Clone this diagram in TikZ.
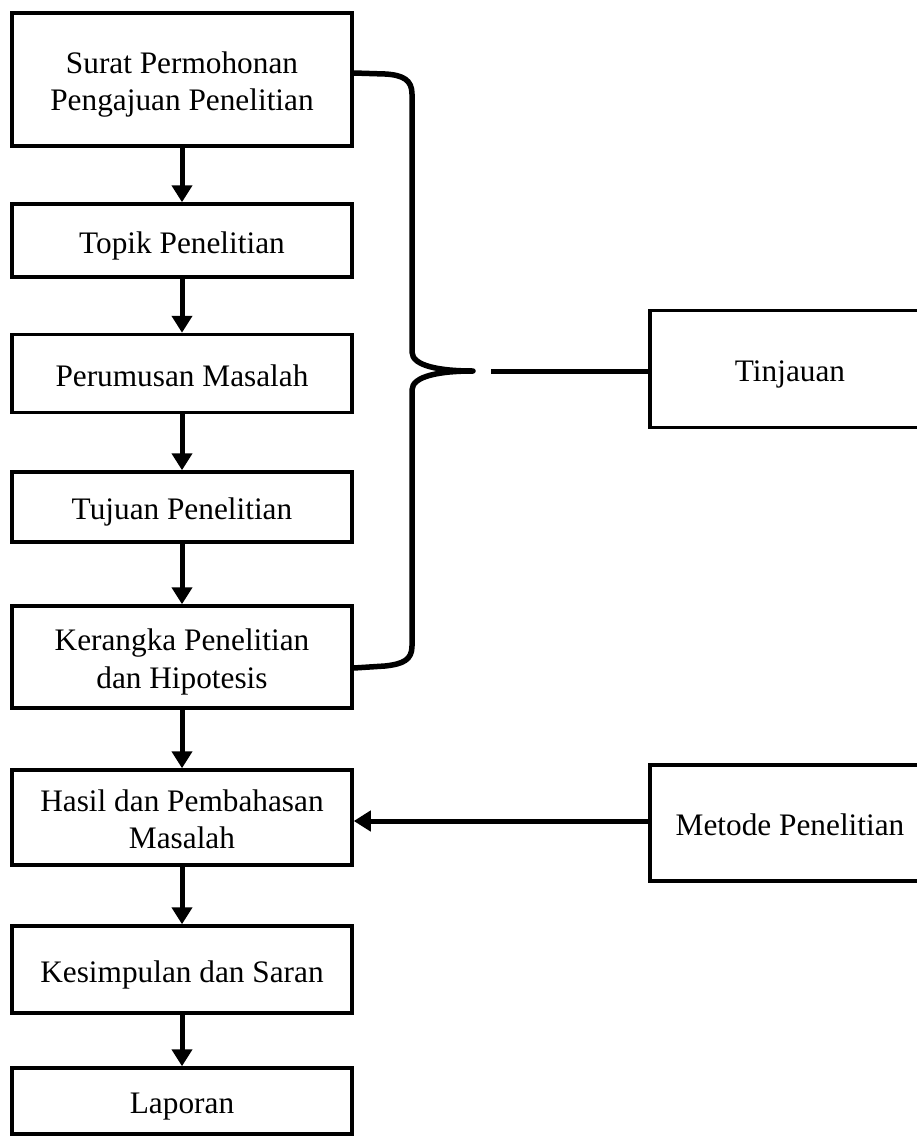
\documentclass[tikz,border=0pt]{standalone}
\usepackage{fontspec}
\setmainfont{Liberation Serif}
\usetikzlibrary{arrows.meta}
\begin{document}
\begin{tikzpicture}[x=1pt,y=-1pt,
  box/.style={draw=black, line width=3.5pt, fill=white, align=center, inner sep=0pt,
    font=\fontsize{31.3}{37.6}\selectfont},
  oneline/.style={text height=30pt, text depth=5pt},
  twoline/.style={text height=67.6pt, text depth=5pt},
  lbox/.style={box, minimum width=340pt},
  arr/.style={draw=black, line width=5pt, -{Triangle[length=17pt,width=20pt]}},
  conn/.style={draw=black, line width=5pt},
  bracepath/.style={draw=black, line width=5.5pt, line join=round}]
\useasboundingbox (0,0) rectangle (916,1140);
\node[lbox, twoline, minimum height=133pt] (b1) at (182,79.5) {Surat Permohonan\\Pengajuan Penelitian};
\node[lbox, oneline, minimum height=73pt] (b2) at (182,240.5) {Topik Penelitian};
\node[lbox, oneline, minimum height=78pt] (b3) at (182,373.5) {Perumusan Masalah};
\node[lbox, oneline, minimum height=70pt] (b4) at (182,507) {Tujuan Penelitian};
\node[lbox, twoline, minimum height=102pt] (b5) at (182,657) {Kerangka Penelitian\\dan Hipotesis};
\node[lbox, twoline, minimum height=95pt] (b6) at (182,817.5) {Hasil dan Pembahasan\\Masalah};
\node[lbox, oneline, minimum height=87pt] (b7) at (182,969.5) {Kesimpulan dan Saran};
\node[lbox, oneline, minimum height=66pt] (b8) at (182,1101) {Laporan};
\node[box, oneline, minimum width=280pt, minimum height=117pt] (tin) at (790,369) {Tinjauan};
\node[box, oneline, minimum width=280pt, minimum height=116pt] (met) at (790,823) {Metode Penelitian};
\draw[arr] (b1) -- (b2);
\draw[arr] (b2) -- (b3);
\draw[arr] (b3) -- (b4);
\draw[arr] (b4) -- (b5);
\draw[arr] (b5) -- (b6);
\draw[arr] (b6) -- (b7);
\draw[arr] (b7) -- (b8);
\coordinate (tip) at (473,371);
\coordinate (gapend) at (491,371);
\draw[bracepath] (b1.east |- 0,73) -- (385,74) .. controls (403,75) and (412,80) .. (412,94)
  -- (412,352) .. controls (412,366) and (440,371) .. (tip)
  .. controls (440,371) and (412,376) .. (412,390)
  -- (412,646) .. controls (412,660) and (403,664) .. (385,666) -- (b5.east |- 0,668);
\draw[conn] (gapend) -- (gapend -| tin.west);
\draw[arr] (met.west |- 0,821) -- (b6.east |- 0,821);
\end{tikzpicture}
\end{document}
